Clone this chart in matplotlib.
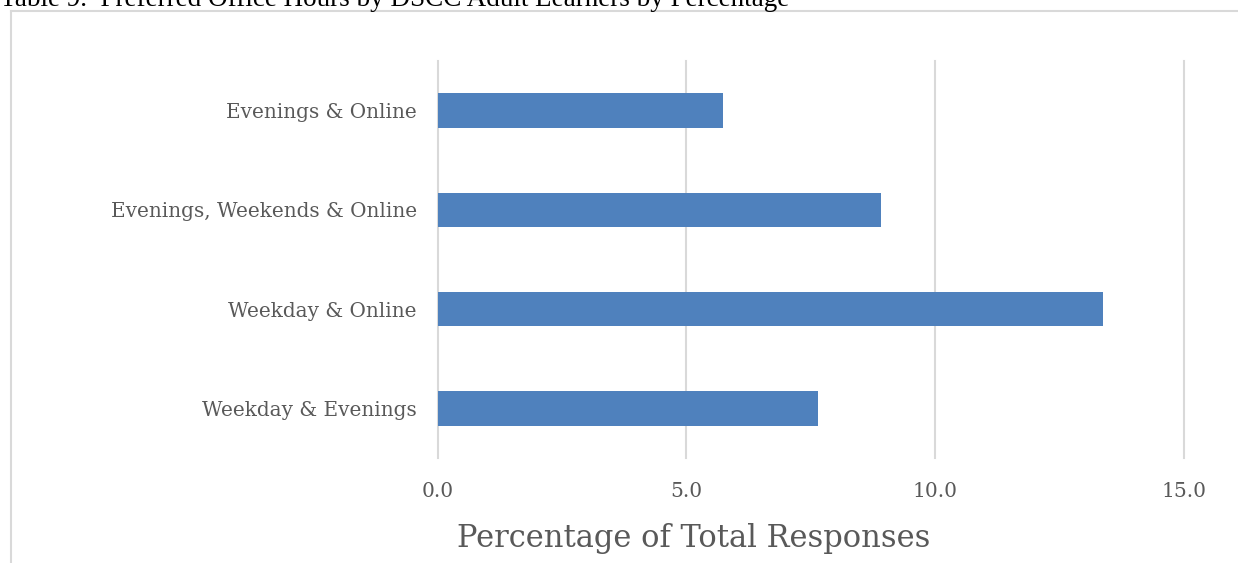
import matplotlib
matplotlib.use("Agg")
import matplotlib.pyplot as plt
from matplotlib.lines import Line2D

categories = ["Weekday & Evenings", "Weekday & Online",
              "Evenings, Weekends & Online", "Evenings & Online"]
values = [7.65, 13.37, 8.91, 5.74]
xticks = [0, 5, 10, 15]
xtick_labels = ["0.0", "5.0", "10.0", "15.0"]
title = "Table 9.  Preferred Office Hours by DSCC Adult Learners by Percentage"
xlabel = "Percentage of Total Responses"

W, H = 1238, 563
fig = plt.figure(figsize=(W / 100, H / 100), dpi=100)

text_color = "#595959"
grid_color = "#d9d9d9"
bar_color = "#4f81bd"
serif = ["DejaVu Serif"]

# outer chart frame
fig.add_artist(Line2D([11 / W, 11 / W], [0, 1 - 11 / H], transform=fig.transFigure,
                      color=grid_color, lw=1.5))
fig.add_artist(Line2D([11 / W, 1], [1 - 11 / H, 1 - 11 / H], transform=fig.transFigure,
                      color=grid_color, lw=1.5))

# title (cut off at top)
fig.text(0, 1 - 6 / H, title, family=["Liberation Serif"], fontsize=19.5,
         color="black", ha="left", va="baseline")

left, right = 437.5 / W, 1184 / W
bottom, top = 1 - 458 / H, 1 - 61 / H
ax = fig.add_axes([left, bottom, right - left, top - bottom])

ypos = list(range(len(categories)))
ax.barh(ypos, values, height=0.35, color=bar_color, zorder=3)
ax.set_xlim(0, 15)
ax.set_ylim(-0.5, len(categories) - 0.5)
for s in ax.spines.values():
    s.set_visible(False)
ax.set_xticks(xticks)
ax.set_xticklabels(xtick_labels, family=serif, fontsize=14.5, color=text_color)
ax.set_yticks(ypos)
ax.set_yticklabels(categories, family=serif, fontsize=14.4, color=text_color)
ax.tick_params(axis="x", length=0, pad=17)
ax.tick_params(axis="y", length=0, pad=15)
ax.grid(axis="x", color=grid_color, lw=1.5, zorder=0)
for gl in ax.get_xgridlines():
    gl.set_clip_on(False)
ax.set_axisbelow(True)

# axis title, centred on the chart frame
fig.text(694 / W, 1 - 538 / H, xlabel, family=serif, fontsize=22,
         color=text_color, ha="center", va="center")

fig.savefig("out.png", dpi=100)
